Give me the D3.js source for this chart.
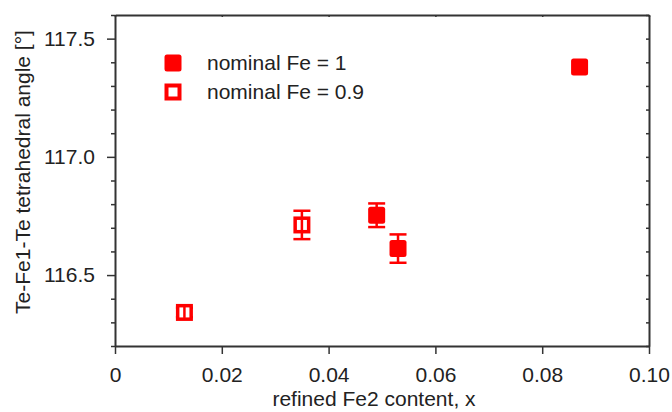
<!DOCTYPE html>
<html>
<head>
<meta charset="utf-8">
<script src="https://cdn.jsdelivr.net/npm/d3@7"></script>
<style>
  body { margin: 0; background: #fff; }
  text { font-family: "Liberation Sans", Arial, sans-serif; fill: #222; }
</style>
</head>
<body>
<div id="chart"></div>
<script>
const width = 672,
    height = 412,
    margin = { top: 15, right: 23, bottom: 66, left: 115 };

const innerWidth = width - margin.left - margin.right,
    innerHeight = height - margin.top - margin.bottom;

// nominal Fe = 1 (filled)
const fe1X = [0.049, 0.053, 0.087];
const fe1Y = [116.753, 116.612, 117.38];
const fe1Err = [0.05, 0.06, 0.0];

// nominal Fe = 0.9 (open)
const fe09X = [0.013, 0.035];
const fe09Y = [116.342, 116.712];
const fe09Err = [0.02, 0.06];

const xTicks = [0, 0.02, 0.04, 0.06, 0.08, 0.10];
const yTicks = [116.5, 117.0, 117.5];
const legendLabels = ["nominal Fe = 1", "nominal Fe = 0.9"];

const red = "#ff0000";
const axisColor = "#333";
const fontSize = "21px";

const svg = d3.select("#chart")
  .append("svg")
  .attr("width", width)
  .attr("height", height)
  .append("g")
  .attr("transform", `translate(${margin.left}, ${margin.top})`);

const x = d3.scaleLinear().domain([0, 0.1]).range([0, innerWidth]);
const y = d3.scaleLinear().domain([116.2, 117.6]).range([innerHeight, 0]);

// minor ticks every 0.1 on the y axes
const yMinor = d3.range(116.2, 117.61, 0.1).map(v => +v.toFixed(1));

// left axis
const left = svg.append("g")
  .call(d3.axisLeft(y).tickValues(yTicks).tickSize(8).tickSizeOuter(0)
    .tickFormat(d3.format(".1f")));
left.selectAll("text").style("font-size", fontSize).attr("x", -20);

svg.append("g")
  .call(d3.axisLeft(y).tickValues(yMinor.filter(v => !yTicks.includes(v))).tickSize(4).tickFormat(""))
  .call(g => g.select(".domain").remove());

// right axis
svg.append("g")
  .attr("transform", `translate(${innerWidth}, 0)`)
  .call(d3.axisLeft(y).tickValues(yMinor).tickSize(3).tickFormat("").tickSizeOuter(0));

// bottom axis
const bottom = svg.append("g")
  .attr("transform", `translate(0, ${innerHeight})`)
  .call(d3.axisBottom(x).tickValues(xTicks).tickSize(8).tickSizeOuter(0)
    .tickFormat((d, i) => i === 0 ? "0" : d3.format(".2f")(d)));
bottom.selectAll("text").style("font-size", fontSize).attr("y", 21).attr("dy", "0.71em");

// top axis
svg.append("g")
  .call(d3.axisBottom(x).tickValues(xTicks).tickSize(2).tickFormat("").tickSizeOuter(0));

svg.selectAll(".domain").attr("stroke", axisColor).attr("stroke-width", 2);
svg.selectAll(".tick line").attr("stroke", axisColor).attr("stroke-width", 1.5);

// axis titles
svg.append("text")
  .attr("x", 374 - margin.left)
  .attr("y", innerHeight + 60)
  .style("text-anchor", "middle")
  .style("font-size", fontSize)
  .text("refined Fe2 content, x");

svg.append("text")
  .attr("transform", "rotate(-90)")
  .attr("x", -(172 - margin.top))
  .attr("y", -margin.left + 30)
  .style("text-anchor", "middle")
  .style("font-size", fontSize)
  .text("Te-Fe1-Te tetrahedral angle [°]");

const size = 17, capW = 17;

function drawSeries(xs, ys, errs, filled) {
  xs.forEach((xv, i) => {
    const cx = x(xv), cy = y(ys[i]), e = errs[i];
    if (e > 0) {
      const g = svg.append("g").attr("stroke", red).attr("stroke-width", 2.5);
      g.append("line")
        .attr("x1", cx).attr("x2", cx)
        .attr("y1", y(ys[i] - e)).attr("y2", y(ys[i] + e));
      [ys[i] - e, ys[i] + e].forEach(v => {
        g.append("line")
          .attr("x1", cx - capW / 2).attr("x2", cx + capW / 2)
          .attr("y1", y(v)).attr("y2", y(v));
      });
    }
    if (filled) {
      svg.append("rect")
        .attr("x", cx - size / 2).attr("y", cy - size / 2)
        .attr("width", size).attr("height", size)
        .attr("rx", 2.5)
        .attr("fill", red);
    } else {
      svg.append("rect")
        .attr("x", cx - size / 2 + 1.75).attr("y", cy - size / 2 + 1.75)
        .attr("width", size - 3.5).attr("height", size - 3.5)
        .attr("fill", "#fff")
        .attr("stroke", red)
        .attr("stroke-width", 3.5);
      if (e > 0) {
        svg.append("line")
          .attr("x1", cx).attr("x2", cx)
          .attr("y1", cy - size / 2 + 3).attr("y2", cy + size / 2 - 3)
          .attr("stroke", red).attr("stroke-width", 2.5);
      }
    }
  });
}

drawSeries(fe09X, fe09Y, fe09Err, false);
drawSeries(fe1X, fe1Y, fe1Err, true);

// legend
const legend = svg.append("g").attr("transform", `translate(${173 - margin.left}, ${63 - margin.top})`);
legendLabels.forEach((label, i) => {
  const ly = i * 29;
  if (i === 0) {
    legend.append("rect")
      .attr("x", -8.5).attr("y", ly - 8.5)
      .attr("width", 17).attr("height", 17).attr("rx", 2.5)
      .attr("fill", red);
  } else {
    legend.append("rect")
      .attr("x", -6.5).attr("y", ly - 6.5)
      .attr("width", 13).attr("height", 13)
      .attr("fill", "#fff").attr("stroke", red).attr("stroke-width", 4);
  }
  legend.append("text")
    .attr("x", 34).attr("y", ly + 7)
    .style("font-size", fontSize)
    .text(label);
});
</script>
</body>
</html>
